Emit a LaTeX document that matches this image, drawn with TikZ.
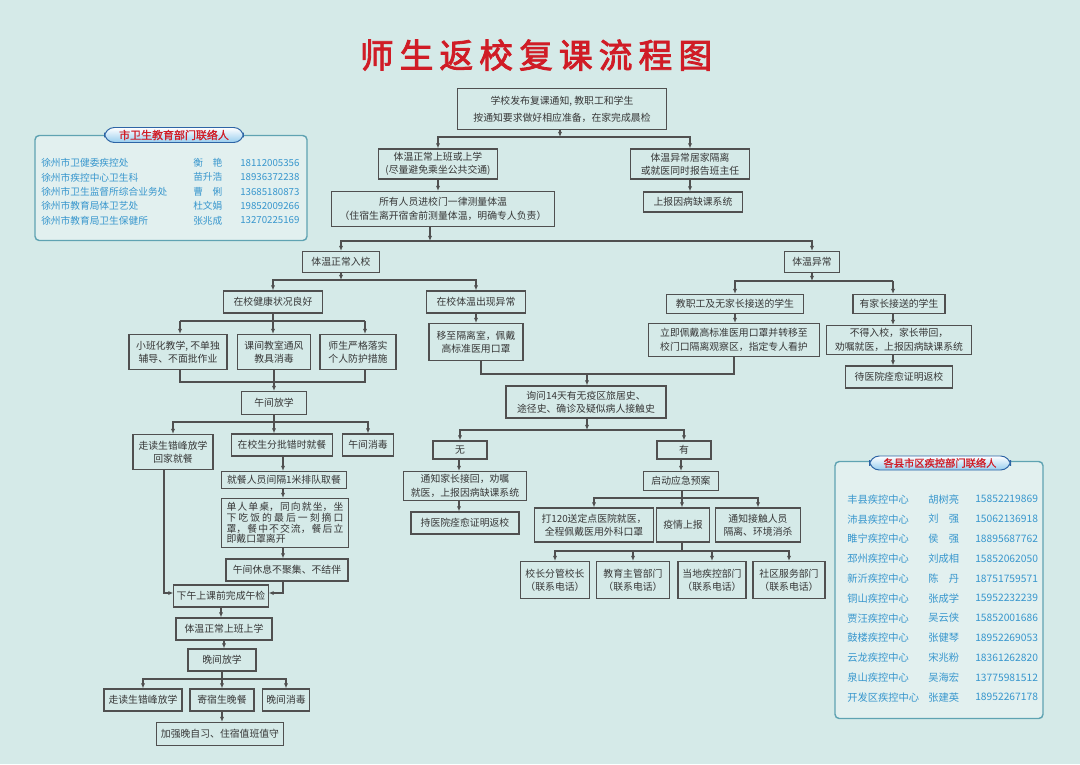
\documentclass[tikz,border=0pt]{standalone}
\usepackage{fontspec}
\setmainfont{Noto Sans CJK SC}
\newfontfamily\titlefont[LetterSpace=18,FakeBold=2.5]{Noto Sans CJK SC}
\newfontfamily\bannerfont[FakeBold=1.2]{Noto Sans CJK SC}
\usetikzlibrary{arrows.meta}
\definecolor{paper}{RGB}{213,234,232}
\definecolor{frame}{RGB}{80,80,80}
\definecolor{ink}{RGB}{55,55,55}
\definecolor{titlered}{RGB}{208,28,38}
\definecolor{contactblue}{RGB}{55,150,205}
\definecolor{listedge}{RGB}{95,163,178}
\definecolor{banneredge}{RGB}{45,100,165}
\definecolor{bannerfill}{RGB}{150,205,238}
\tikzset{flowbox/.style={draw=frame, line width=0.8pt, text=ink, align=center,
           inner xsep=2pt, inner ysep=1pt, font=\fontsize{7}{9.5}\selectfont},
         sz/.style 2 args={minimum width=#1*0.025cm, minimum height=#2*0.025cm},
         arr/.style={draw=frame, line width=0.75pt, -{Latex[length=3.6pt,width=3pt]}},
         joint/.style={draw=frame, line width=0.75pt},
         listframe/.style={draw=listedge, line width=1pt, rounded corners=3pt, fill=paper!70!white},
         banner/.style={draw=banneredge, line width=0.7pt, rounded corners=7pt, top color=white,
           bottom color=bannerfill, text=titlered, inner sep=0pt, font=\bannerfont\fontsize{7.8}{7.8}\selectfont},
         contact/.style={text=contactblue, inner sep=0pt, anchor=west}}

\begin{document}
\begin{tikzpicture}[x=0.025cm,y=-0.025cm]
% Hintergrund:
\fill[paper] (0,0) rectangle (1080,764);
\useasboundingbox (0,0) rectangle (1080,764);
% Titel:
\node[text=titlered, font=\titlefont\fontsize{24}{24}\selectfont] (title) at (536,55) {师生返校复课流程图};

% Oberer Teil:
\node[flowbox, sz={209}{41}, font=\fontsize{7}{12}\selectfont] (start) at (562,109) {学校发布复课通知, 教职工和学生\\按通知要求做好相应准备，在家完成晨检};
\node[flowbox, sz={119}{30}] (normal) at (438,164) {体温正常上班或上学\\(尽量避免乘坐公共交通)};
\node[flowbox, sz={119}{30}] (home) at (690,164) {体温异常居家隔离\\或就医同时报告班主任};
\node[flowbox, sz={99}{20}] (report) at (693,202) {上报因病缺课系统};
\node[flowbox, sz={223}{35}] (measure) at (443,209) {所有人员进校门一律测量体温\\（住宿生离开宿舍前测量体温，明确专人负责）};
\node[flowbox, sz={77}{21}] (enter) at (341,262) {体温正常入校};
\node[flowbox, sz={55}{21}] (fever) at (812,262) {体温异常};

% Linker Zweig:
\node[flowbox, sz={99}{22}] (good) at (273,302) {在校健康状况良好};
\node[flowbox, sz={99}{22}] (sick) at (476,302) {在校体温出现异常};
\node[flowbox, sz={98}{35}] (small) at (178,352) {小班化教学, 不单独\\辅导、不面批作业};
\node[flowbox, sz={73}{35}] (air) at (274,352) {课间教室通风\\教具消毒};
\node[flowbox, sz={76}{35}] (protect) at (358,352) {师生严格落实\\个人防护措施};
\node[flowbox, sz={94}{37}] (isolate) at (476,342) {移至隔离室，佩戴\\高标准医用口罩};
\node[flowbox, sz={65}{23}] (noon) at (274,403) {午间放学};
\node[flowbox, sz={80}{35}] (walk) at (173,452) {走读生错峰放学\\回家就餐};
\node[flowbox, sz={101}{22}] (dine) at (282,445) {在校生分批错时就餐};
\node[flowbox, sz={51}{22}] (clean) at (368,445) {午间消毒};
\node[flowbox, sz={125}{17}] (queue) at (284,480) {就餐人员间隔1米排队取餐};
\node[flowbox, sz={127}{49}, text width=2.92cm, align=justify, font=\fontsize{7}{7.7}\selectfont] (seat) at (285,523)
  {\XeTeXlinebreaklocale "zh"\XeTeXlinebreakskip=0pt plus 2pt 单人单桌，同向就坐，坐\linebreak 下吃饭的最后一刻摘口\linebreak 罩，餐中不交流，餐后立\linebreak 即戴口罩离开};
\node[flowbox, sz={122}{22}] (rest) at (287,570) {午间休息不聚集、不结伴};
\node[flowbox, sz={94}{22}] (check) at (221,596) {下午上课前完成午检};
\node[flowbox, sz={96}{22}] (again) at (224,629) {体温正常上班上学};
\node[flowbox, sz={68}{22}] (evening) at (222,660) {晚间放学};
\node[flowbox, sz={78}{22}] (walk2) at (143,700) {走读生错峰放学};
\node[flowbox, sz={64}{22}] (board) at (222,700) {寄宿生晚餐};
\node[flowbox, sz={47}{22}] (clean2) at (286,700) {晚间消毒};
\node[flowbox, sz={127}{23}] (study) at (220,734) {加强晚自习、住宿值班值守};

% Rechter Zweig:
\node[flowbox, sz={137}{19}] (staff) at (735,304) {教职工及无家长接送的学生};
\node[flowbox, sz={92}{19}] (parent) at (899,304) {有家长接送的学生};
\node[flowbox, sz={171}{33}] (mask) at (734,340) {立即佩戴高标准医用口罩并转移至\\校门口隔离观察区，指定专人看护};
\node[flowbox, sz={145}{29}] (deny) at (899,340) {不得入校，家长带回，\\劝嘱就医，上报因病缺课系统};
\node[flowbox, sz={107}{22}] (back2) at (899,377) {待医院痊愈证明返校};

% Mitte unten:
\node[flowbox, sz={160}{32}] (ask) at (586,402) {询问14天有无疫区旅居史、\\途径史、确诊及疑似病人接触史};
\node[flowbox, sz={54}{18}] (no) at (460,450) {无};
\node[flowbox, sz={54}{18}] (yes) at (684,450) {有};
\node[flowbox, sz={123}{29}] (notify) at (465,486) {通知家长接回，劝嘱\\就医，上报因病缺课系统};
\node[flowbox, sz={108}{22}] (back1) at (465,523) {持医院痊愈证明返校};
\node[flowbox, sz={75}{19}] (plan) at (681,481) {启动应急预案};
\node[flowbox, sz={119}{34}] (call) at (594,525) {打120送定点医院就医，\\全程佩戴医用外科口罩};
\node[flowbox, sz={53}{34}] (epi) at (683,525) {疫情上报};
\node[flowbox, sz={85}{34}] (touch) at (758,525) {通知接触人员\\隔离、环境消杀};
\foreach \x/\w/\name/\txt in {555/69/head/校长分管校长, 633/73/edu/教育主管部门,
                              712/68/cdc/当地疾控部门, 789/72/comm/社区服务部门}
  \node[flowbox, sz={\w}{37}] (\name) at (\x,580) {\txt\\（联系电话）};

% Verbindungen oben:
\coordinate (j1) at (560,137);
\draw[arr] (start.south -| j1) -- (j1);
\draw[arr] (j1) -| (normal.north);
\draw[arr] (j1) -| (home.north);
\draw[arr] (home.south) -- (home.south |- report.north);
\draw[arr] (normal.south) -- (normal.south |- measure.north);
\coordinate (j2) at (430,241);
\draw[arr] (measure.south -| j2) -- (j2);
\draw[arr] (j2) -| (enter.north);
\draw[arr] (j2) -| (fever.north);

% Verbindungen links:
\coordinate (j3) at (341,280);
\draw[arr] (enter.south) -- (j3);
\draw[arr] (j3) -| (good.north);
\draw[arr] (j3) -| (sick.north);
\draw[arr] (sick.south) -- (sick.south |- isolate.north);
\coordinate (j4l) at (180,321);
\coordinate (j4r) at (365,321);
\draw[joint] (j4l) -- (j4r);
\draw[arr] (j4l) -- (j4l |- small.north);
\draw[arr] (j4r) -- (j4r |- protect.north);
\draw[arr] (good.south) -- (good.south |- air.north);
\coordinate (m1l) at (180,382);
\coordinate (m1r) at (365,382);
\draw[joint] (small.south -| m1l) -- (m1l) -- (m1r) -- (protect.south -| m1r);
\draw[arr] (air.south) -- (air.south |- noon.north);
\coordinate (j5) at (274,422);
\draw[joint] (noon.south) -- (j5);
\draw[arr] (j5) -| (walk.north);
\draw[arr] (j5) -| (clean.north);
\draw[arr] (j5) -- (j5 |- dine.north);
\coordinate (d1) at (283,0);
\draw[arr] (dine.south -| d1) -- (queue.north -| d1);
\draw[arr] (queue.south -| d1) -- (seat.north -| d1);
\draw[arr] (seat.south -| d1) -- (rest.north -| d1);
\coordinate (c1) at (164,593);
\coordinate (c2) at (283,593);
\draw[arr] (walk.south -| c1) -- (c1) -- (check.west |- c1);
\draw[arr] (rest.south -| c2) -- (c2) -- (check.east |- c2);
\draw[arr] (check.south) -- (check.south |- again.north);
\draw[arr] (again.south) -- (again.south |- evening.north);
\coordinate (j6) at (222,679);
\draw[joint] (evening.south) -- (j6);
\draw[arr] (j6) -| (walk2.north);
\draw[arr] (j6) -| (clean2.north);
\draw[arr] (j6) -- (board.north);
\draw[arr] (board.south) -- (board.south |- study.north);

% Verbindungen rechts:
\coordinate (j7) at (812,281);
\draw[arr] (fever.south) -- (j7);
\coordinate (j7r) at (893,281);
\draw[arr] (j7) -| (staff.north);
\draw[joint] (j7) -- (j7r);
\draw[arr] (j7r) -- (j7r |- parent.north);
\draw[arr] (parent.south -| j7r) -- (deny.north -| j7r);
\draw[arr] (deny.south -| j7r) -- (back2.north -| j7r);
\draw[arr] (staff.south) -- (staff.south |- mask.north);
\coordinate (m2) at (587,374);
\draw[joint] (isolate.south -| 481,0) |- (m2) -| (mask.south);
\draw[arr] (m2) -- (ask.north -| m2);

% Verbindungen Mitte:
\coordinate (j8) at (587,430);
\draw[arr] (ask.south -| j8) -- (j8);
\draw[arr] (j8) -| (no.north);
\draw[arr] (j8) -| (yes.north);
\coordinate (n1) at (459,0);
\draw[arr] (no.south -| n1) -- (notify.north -| n1);
\draw[arr] (notify.south -| n1) -- (back1.north -| n1);
\draw[arr] (yes.south -| plan.north) -- (plan.north);
\coordinate (j9) at (682,498);
\draw[joint] (plan.south -| j9) -- (j9);
\draw[arr] (j9) -| (call.north);
\draw[arr] (j9) -| (touch.north);
\draw[arr] (j9) -- (epi.north -| j9);
\coordinate (j10) at (682,551);
\draw[joint] (epi.south -| j10) -- (j10);
\foreach \name in {head,edu,cdc,comm}
  \draw[arr] (j10) -| (\name.north);

% Kontakte links:
\node[listframe, sz={272}{105}] (list1) at (171,188) {};
\node[banner, sz={139}{15}] (banner1) at (174,135) {市卫生教育部门联络人};
\foreach \org/\who/\tel [count=\i] in {徐州市卫健委疾控处/衡　艳/18112005356,
    徐州市疾控中心卫生科/苗升浩/18936372238,
    徐州市卫生监督所综合业务处/曹　俐/13685180873,
    徐州市教育局体卫艺处/杜文娟/19852009266,
    徐州市教育局卫生保健所/张兆成/13270225169}{
  \node[contact, font=\fontsize{6.9}{6.9}\selectfont] (lo\i) at (41,148.5+14.4*\i) {\org};
  \node[contact, font=\fontsize{6.9}{6.9}\selectfont] (lw\i) at (193,148.5+14.4*\i) {\who};
  \node[contact, font=\fontsize{6.9}{6.9}\selectfont] (lt\i) at (240,148.5+14.4*\i) {\tel};
}

% Kontakte rechts:
\node[listframe, sz={208}{257}] (list2) at (939,590) {};
\node[banner, sz={141}{14}, font=\bannerfont\fontsize{7.3}{7.3}\selectfont] (banner2) at (940,463) {各县市区疾控部门联络人};
\foreach \org/\who/\tel [count=\i] in {丰县疾控中心/胡树亮/15852219869,
    沛县疾控中心/刘　强/15062136918,
    睢宁疾控中心/侯　强/18895687762,
    邳州疾控中心/刘成相/15852062050,
    新沂疾控中心/陈　丹/18751759571,
    铜山疾控中心/张成学/15952232239,
    贾汪疾控中心/吴云侠/15852001686,
    鼓楼疾控中心/张健琴/18952269053,
    云龙疾控中心/宋兆粉/18361262820,
    泉山疾控中心/吴海宏/13775981512,
    开发区疾控中心/张建英/18952267178}{
  \node[contact, font=\fontsize{7.3}{7.3}\selectfont] (ro\i) at (847,479.5+19.8*\i) {\org};
  \node[contact, font=\fontsize{7.3}{7.3}\selectfont] (rw\i) at (928,479.5+19.8*\i) {\who};
  \node[contact, font=\fontsize{7.3}{7.3}\selectfont] (rt\i) at (975,479.5+19.8*\i) {\tel};
}
\end{tikzpicture}
\end{document}
